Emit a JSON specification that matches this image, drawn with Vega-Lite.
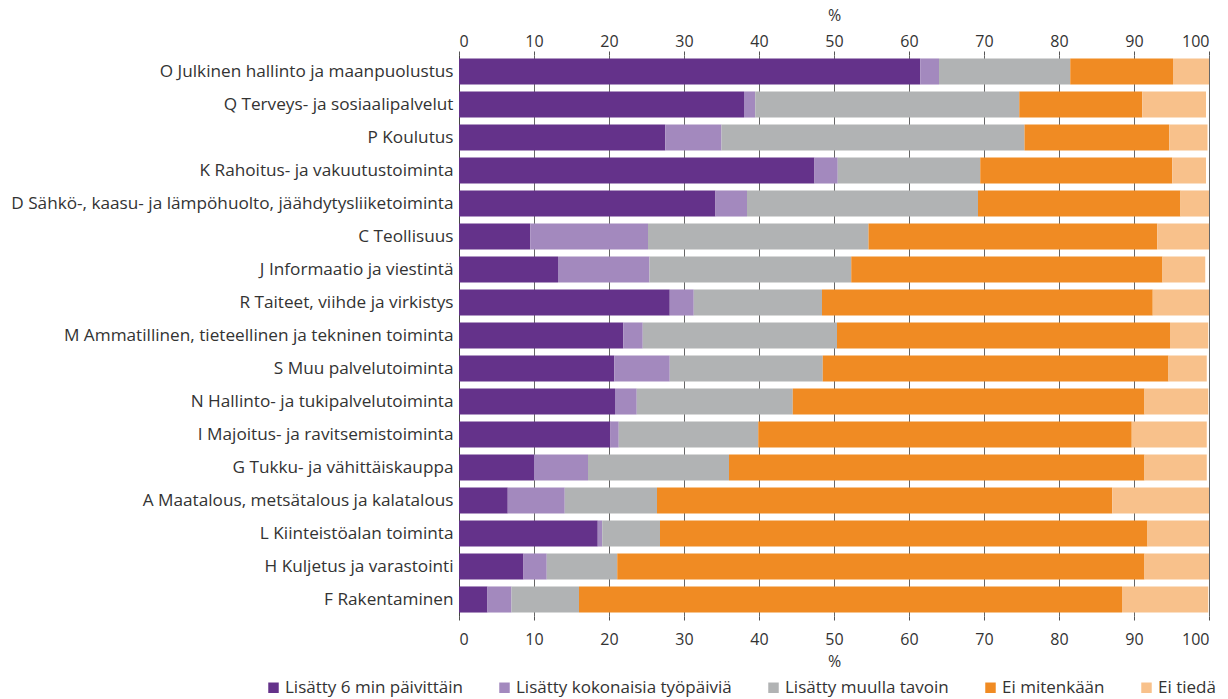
{
  "$schema": "https://vega.github.io/schema/vega-lite/v6.json",
  "autosize": {"type": "none"},
  "padding": {"left": 459, "top": 55, "right": 19, "bottom": 83},
  "width": 750,
  "height": 561,
  "background": "white",
  "config": {
    "view": {"stroke": null},
    "font": "Open Sans",
    "axis": {"labelFont": "Open Sans", "titleFont": "Open Sans", "labelColor": "#333333", "titleColor": "#333333", "labelFontSize": 16, "titleFontSize": 16, "titleFontWeight": "normal"},
    "legend": {"labelFont": "Open Sans", "labelFontSize": 17, "labelColor": "#333333"}
  },
  "datasets": {
    "d": [
      {"ala": "O Julkinen hallinto ja maanpuolustus", "tapa": "Lisätty 6 min päivittäin", "j": 1, "osuus": 61.5},
      {"ala": "O Julkinen hallinto ja maanpuolustus", "tapa": "Lisätty kokonaisia työpäiviä", "j": 2, "osuus": 2.5},
      {"ala": "O Julkinen hallinto ja maanpuolustus", "tapa": "Lisätty muulla tavoin", "j": 3, "osuus": 17.5},
      {"ala": "O Julkinen hallinto ja maanpuolustus", "tapa": "Ei mitenkään", "j": 4, "osuus": 13.7},
      {"ala": "O Julkinen hallinto ja maanpuolustus", "tapa": "Ei tiedä", "j": 5, "osuus": 4.8},
      {"ala": "Q Terveys- ja sosiaalipalvelut", "tapa": "Lisätty 6 min päivittäin", "j": 1, "osuus": 38.0},
      {"ala": "Q Terveys- ja sosiaalipalvelut", "tapa": "Lisätty kokonaisia työpäiviä", "j": 2, "osuus": 1.5},
      {"ala": "Q Terveys- ja sosiaalipalvelut", "tapa": "Lisätty muulla tavoin", "j": 3, "osuus": 35.2},
      {"ala": "Q Terveys- ja sosiaalipalvelut", "tapa": "Ei mitenkään", "j": 4, "osuus": 16.4},
      {"ala": "Q Terveys- ja sosiaalipalvelut", "tapa": "Ei tiedä", "j": 5, "osuus": 8.5},
      {"ala": "P Koulutus", "tapa": "Lisätty 6 min päivittäin", "j": 1, "osuus": 27.5},
      {"ala": "P Koulutus", "tapa": "Lisätty kokonaisia työpäiviä", "j": 2, "osuus": 7.5},
      {"ala": "P Koulutus", "tapa": "Lisätty muulla tavoin", "j": 3, "osuus": 40.4},
      {"ala": "P Koulutus", "tapa": "Ei mitenkään", "j": 4, "osuus": 19.3},
      {"ala": "P Koulutus", "tapa": "Ei tiedä", "j": 5, "osuus": 5.1},
      {"ala": "K Rahoitus- ja vakuutustoiminta", "tapa": "Lisätty 6 min päivittäin", "j": 1, "osuus": 47.4},
      {"ala": "K Rahoitus- ja vakuutustoiminta", "tapa": "Lisätty kokonaisia työpäiviä", "j": 2, "osuus": 3.1},
      {"ala": "K Rahoitus- ja vakuutustoiminta", "tapa": "Lisätty muulla tavoin", "j": 3, "osuus": 19.0},
      {"ala": "K Rahoitus- ja vakuutustoiminta", "tapa": "Ei mitenkään", "j": 4, "osuus": 25.6},
      {"ala": "K Rahoitus- ja vakuutustoiminta", "tapa": "Ei tiedä", "j": 5, "osuus": 4.5},
      {"ala": "D Sähkö-, kaasu- ja lämpöhuolto, jäähdytysliiketoiminta", "tapa": "Lisätty 6 min päivittäin", "j": 1, "osuus": 34.2},
      {"ala": "D Sähkö-, kaasu- ja lämpöhuolto, jäähdytysliiketoiminta", "tapa": "Lisätty kokonaisia työpäiviä", "j": 2, "osuus": 4.2},
      {"ala": "D Sähkö-, kaasu- ja lämpöhuolto, jäähdytysliiketoiminta", "tapa": "Lisätty muulla tavoin", "j": 3, "osuus": 30.8},
      {"ala": "D Sähkö-, kaasu- ja lämpöhuolto, jäähdytysliiketoiminta", "tapa": "Ei mitenkään", "j": 4, "osuus": 27.0},
      {"ala": "D Sähkö-, kaasu- ja lämpöhuolto, jäähdytysliiketoiminta", "tapa": "Ei tiedä", "j": 5, "osuus": 3.8},
      {"ala": "C Teollisuus", "tapa": "Lisätty 6 min päivittäin", "j": 1, "osuus": 9.5},
      {"ala": "C Teollisuus", "tapa": "Lisätty kokonaisia työpäiviä", "j": 2, "osuus": 15.7},
      {"ala": "C Teollisuus", "tapa": "Lisätty muulla tavoin", "j": 3, "osuus": 29.4},
      {"ala": "C Teollisuus", "tapa": "Ei mitenkään", "j": 4, "osuus": 38.5},
      {"ala": "C Teollisuus", "tapa": "Ei tiedä", "j": 5, "osuus": 6.9},
      {"ala": "J Informaatio ja viestintä", "tapa": "Lisätty 6 min päivittäin", "j": 1, "osuus": 13.2},
      {"ala": "J Informaatio ja viestintä", "tapa": "Lisätty kokonaisia työpäiviä", "j": 2, "osuus": 12.2},
      {"ala": "J Informaatio ja viestintä", "tapa": "Lisätty muulla tavoin", "j": 3, "osuus": 26.9},
      {"ala": "J Informaatio ja viestintä", "tapa": "Ei mitenkään", "j": 4, "osuus": 41.5},
      {"ala": "J Informaatio ja viestintä", "tapa": "Ei tiedä", "j": 5, "osuus": 5.7},
      {"ala": "R Taiteet, viihde ja virkistys", "tapa": "Lisätty 6 min päivittäin", "j": 1, "osuus": 28.1},
      {"ala": "R Taiteet, viihde ja virkistys", "tapa": "Lisätty kokonaisia työpäiviä", "j": 2, "osuus": 3.2},
      {"ala": "R Taiteet, viihde ja virkistys", "tapa": "Lisätty muulla tavoin", "j": 3, "osuus": 17.1},
      {"ala": "R Taiteet, viihde ja virkistys", "tapa": "Ei mitenkään", "j": 4, "osuus": 44.1},
      {"ala": "R Taiteet, viihde ja virkistys", "tapa": "Ei tiedä", "j": 5, "osuus": 7.5},
      {"ala": "M Ammatillinen, tieteellinen ja tekninen toiminta", "tapa": "Lisätty 6 min päivittäin", "j": 1, "osuus": 21.9},
      {"ala": "M Ammatillinen, tieteellinen ja tekninen toiminta", "tapa": "Lisätty kokonaisia työpäiviä", "j": 2, "osuus": 2.6},
      {"ala": "M Ammatillinen, tieteellinen ja tekninen toiminta", "tapa": "Lisätty muulla tavoin", "j": 3, "osuus": 25.9},
      {"ala": "M Ammatillinen, tieteellinen ja tekninen toiminta", "tapa": "Ei mitenkään", "j": 4, "osuus": 44.4},
      {"ala": "M Ammatillinen, tieteellinen ja tekninen toiminta", "tapa": "Ei tiedä", "j": 5, "osuus": 5.1},
      {"ala": "S Muu palvelutoiminta", "tapa": "Lisätty 6 min päivittäin", "j": 1, "osuus": 20.7},
      {"ala": "S Muu palvelutoiminta", "tapa": "Lisätty kokonaisia työpäiviä", "j": 2, "osuus": 7.4},
      {"ala": "S Muu palvelutoiminta", "tapa": "Lisätty muulla tavoin", "j": 3, "osuus": 20.4},
      {"ala": "S Muu palvelutoiminta", "tapa": "Ei mitenkään", "j": 4, "osuus": 46.1},
      {"ala": "S Muu palvelutoiminta", "tapa": "Ei tiedä", "j": 5, "osuus": 5.1},
      {"ala": "N Hallinto- ja tukipalvelutoiminta", "tapa": "Lisätty 6 min päivittäin", "j": 1, "osuus": 20.8},
      {"ala": "N Hallinto- ja tukipalvelutoiminta", "tapa": "Lisätty kokonaisia työpäiviä", "j": 2, "osuus": 2.9},
      {"ala": "N Hallinto- ja tukipalvelutoiminta", "tapa": "Lisätty muulla tavoin", "j": 3, "osuus": 20.8},
      {"ala": "N Hallinto- ja tukipalvelutoiminta", "tapa": "Ei mitenkään", "j": 4, "osuus": 46.9},
      {"ala": "N Hallinto- ja tukipalvelutoiminta", "tapa": "Ei tiedä", "j": 5, "osuus": 8.5},
      {"ala": "I Majoitus- ja ravitsemistoiminta", "tapa": "Lisätty 6 min päivittäin", "j": 1, "osuus": 20.2},
      {"ala": "I Majoitus- ja ravitsemistoiminta", "tapa": "Lisätty kokonaisia työpäiviä", "j": 2, "osuus": 1.1},
      {"ala": "I Majoitus- ja ravitsemistoiminta", "tapa": "Lisätty muulla tavoin", "j": 3, "osuus": 18.6},
      {"ala": "I Majoitus- ja ravitsemistoiminta", "tapa": "Ei mitenkään", "j": 4, "osuus": 49.8},
      {"ala": "I Majoitus- ja ravitsemistoiminta", "tapa": "Ei tiedä", "j": 5, "osuus": 10.0},
      {"ala": "G Tukku- ja vähittäiskauppa", "tapa": "Lisätty 6 min päivittäin", "j": 1, "osuus": 10.0},
      {"ala": "G Tukku- ja vähittäiskauppa", "tapa": "Lisätty kokonaisia työpäiviä", "j": 2, "osuus": 7.2},
      {"ala": "G Tukku- ja vähittäiskauppa", "tapa": "Lisätty muulla tavoin", "j": 3, "osuus": 18.8},
      {"ala": "G Tukku- ja vähittäiskauppa", "tapa": "Ei mitenkään", "j": 4, "osuus": 55.4},
      {"ala": "G Tukku- ja vähittäiskauppa", "tapa": "Ei tiedä", "j": 5, "osuus": 8.3},
      {"ala": "A Maatalous, metsätalous ja kalatalous", "tapa": "Lisätty 6 min päivittäin", "j": 1, "osuus": 6.5},
      {"ala": "A Maatalous, metsätalous ja kalatalous", "tapa": "Lisätty kokonaisia työpäiviä", "j": 2, "osuus": 7.6},
      {"ala": "A Maatalous, metsätalous ja kalatalous", "tapa": "Lisätty muulla tavoin", "j": 3, "osuus": 12.3},
      {"ala": "A Maatalous, metsätalous ja kalatalous", "tapa": "Ei mitenkään", "j": 4, "osuus": 60.7},
      {"ala": "A Maatalous, metsätalous ja kalatalous", "tapa": "Ei tiedä", "j": 5, "osuus": 12.9},
      {"ala": "L Kiinteistöalan toiminta", "tapa": "Lisätty 6 min päivittäin", "j": 1, "osuus": 18.5},
      {"ala": "L Kiinteistöalan toiminta", "tapa": "Lisätty kokonaisia työpäiviä", "j": 2, "osuus": 0.6},
      {"ala": "L Kiinteistöalan toiminta", "tapa": "Lisätty muulla tavoin", "j": 3, "osuus": 7.7},
      {"ala": "L Kiinteistöalan toiminta", "tapa": "Ei mitenkään", "j": 4, "osuus": 65.0},
      {"ala": "L Kiinteistöalan toiminta", "tapa": "Ei tiedä", "j": 5, "osuus": 8.2},
      {"ala": "H Kuljetus ja varastointi", "tapa": "Lisätty 6 min päivittäin", "j": 1, "osuus": 8.6},
      {"ala": "H Kuljetus ja varastointi", "tapa": "Lisätty kokonaisia työpäiviä", "j": 2, "osuus": 3.1},
      {"ala": "H Kuljetus ja varastointi", "tapa": "Lisätty muulla tavoin", "j": 3, "osuus": 9.4},
      {"ala": "H Kuljetus ja varastointi", "tapa": "Ei mitenkään", "j": 4, "osuus": 70.3},
      {"ala": "H Kuljetus ja varastointi", "tapa": "Ei tiedä", "j": 5, "osuus": 8.6},
      {"ala": "F Rakentaminen", "tapa": "Lisätty 6 min päivittäin", "j": 1, "osuus": 3.8},
      {"ala": "F Rakentaminen", "tapa": "Lisätty kokonaisia työpäiviä", "j": 2, "osuus": 3.2},
      {"ala": "F Rakentaminen", "tapa": "Lisätty muulla tavoin", "j": 3, "osuus": 9.0},
      {"ala": "F Rakentaminen", "tapa": "Ei mitenkään", "j": 4, "osuus": 72.4},
      {"ala": "F Rakentaminen", "tapa": "Ei tiedä", "j": 5, "osuus": 11.5}
    ]
  },
  "data": {"name": "d"},
  "layer": [
    {
      "mark": {"type": "bar", "color": "transparent"},
      "encoding": {
        "y": {"field": "ala", "type": "nominal", "sort": null, "scale": {"paddingInner": 0.21, "paddingOuter": 0.105},
          "axis": {"title": null, "ticks": false, "domain": true, "domainColor": "#444444", "labelPadding": 6, "labelLimit": 600, "grid": false, "labelFontSize": 17.2}},
        "x": {"aggregate": "sum", "field": "osuus", "type": "quantitative", "scale": {"domain": [0, 100], "nice": false, "zero": true},
          "axis": {"orient": "top", "title": "%", "values": [0, 10, 20, 30, 40, 50, 60, 70, 80, 90, 100], "grid": false, "domain": false, "tickColor": "#555555", "tickSize": 4, "labelPadding": 2, "titlePadding": 10}}
      }
    },
    {
      "mark": {"type": "bar"},
      "encoding": {
        "y": {"field": "ala", "type": "nominal", "sort": null, "scale": {"paddingInner": 0.21, "paddingOuter": 0.105},
          "axis": {"title": null, "ticks": false, "domain": true, "domainColor": "#444444", "labelPadding": 6, "labelLimit": 600, "grid": false, "labelFontSize": 17.2}},
        "x": {"field": "osuus", "type": "quantitative", "stack": "zero",
          "axis": {"orient": "bottom", "title": "%", "values": [0, 10, 20, 30, 40, 50, 60, 70, 80, 90, 100], "grid": true, "gridColor": "#666666", "gridOpacity": 1, "domain": false, "tickColor": "#555555", "tickSize": 4, "labelPadding": 11, "titlePadding": 6}},
        "color": {"field": "tapa", "type": "nominal",
          "scale": {"domain": ["Lisätty 6 min päivittäin", "Lisätty kokonaisia työpäiviä", "Lisätty muulla tavoin", "Ei mitenkään", "Ei tiedä"], "range": ["#64328a", "#a389be", "#b1b3b4", "#f08b23", "#f8c18b"]},
          "legend": {"title": null, "orient": "none", "direction": "horizontal", "legendX": -194, "legendY": 624, "symbolType": "square", "symbolSize": 110, "symbolStrokeWidth": 0, "labelOffset": 3, "columnPadding": 33, "labelLimit": 500, "labelFontSize": 17}},
        "order": {"field": "j", "type": "quantitative"}
      }
    }
  ],
  "resolve": {"axis": {"x": "independent"}}
}
